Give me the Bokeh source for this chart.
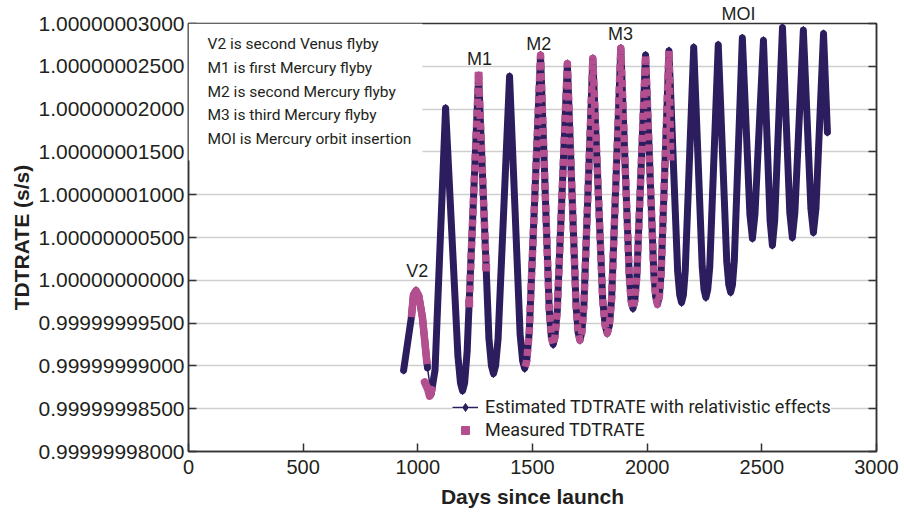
from bokeh.embed import file_html
from bokeh.models import (BoxAnnotation, FixedTicker, Label, Legend,
                          LegendItem, LinearAxis, Range1d,
                          SingleIntervalTicker)
from bokeh.plotting import figure
from bokeh.resources import INLINE

# TDTRATE is plotted as offset from 1 in units of 1e-9 s/s
est_days = [938, 972, 981, 992, 1004, 1020, 1042, 1058, 1075, 1121, 1175, 1186,
            1195, 1204, 1215, 1265, 1310, 1321, 1330, 1339, 1350, 1400, 1446,
            1457, 1466, 1475, 1486, 1535, 1573, 1582, 1590, 1598, 1608, 1652,
            1690, 1699, 1707, 1715, 1724, 1763, 1806, 1817, 1826, 1835, 1845,
            1885, 1922, 1930, 1938, 1946, 1955, 1993, 2029, 2037, 2045, 2053,
            2061, 2095, 2133, 2142, 2150, 2158, 2166, 2203, 2240, 2248, 2256,
            2264, 2273, 2310, 2347, 2356, 2364, 2372, 2380, 2415, 2448, 2459,
            2470, 2507, 2536, 2546, 2556, 2590, 2622, 2633, 2644, 2681, 2714,
            2725, 2736, 2769, 2786]
est_vals = [-10.5, -4.3, -1.7, -1.2, -1.8, -4.3, -10.2, -13.3, -10.5, 20.1, -8.9,
            -12.0, -12.9, -12.0, -8.3, 23.9, -6.8, -10.0, -10.9, -10.0, -6.8,
            23.8, -6.3, -9.4, -10.3, -9.4, -6.0, 26.3, -3.5, -6.6, -7.5, -6.6,
            -3.5, 25.3, -3.0, -6.1, -7.0, -6.1, -3.0, 25.9, -2.3, -5.3, -6.2,
            -5.3, -2.2, 27.1, 0.5, -2.4, -3.3, -2.4, 0.5, 26.3, 0.8, -1.9, -2.8,
            -1.9, 0.9, 26.8, 1.0, -1.7, -2.6, -1.7, 1.1, 27.2, 1.6, -1.1, -2.0,
            -1.1, 1.6, 27.5, 2.2, -0.5, -1.4, -0.5, 2.3, 28.3, 7.7, 4.9, 7.7,
            28.0, 7.0, 4.1, 7.0, 29.5, 7.9, 5.0, 7.9, 29.2, 8.4, 5.6, 8.4, 28.8,
            17.3]
est_gap_after = 1042  # estimated track has a data gap after this day

v2_meas_days = [972, 981, 992, 1004, 1020, 1040]
v2_meas_vals = [-4.3, -1.7, -1.2, -1.8, -4.3, -9.8]
v2_low_days = [1030, 1045, 1052, 1060]
v2_low_vals = [-11.9, -12.8, -13.5, -12.8]
m1_meas_days = [1224, 1265, 1298]
m1_meas_vals = [-2.7, 23.9, 1.5]
flyby_meas_days = [1468, 1475, 1486, 1535, 1573, 1582, 1590, 1598, 1608, 1652,
                   1690, 1699, 1707, 1715, 1724, 1763, 1806, 1817, 1826, 1835,
                   1845, 1885, 1922, 1930, 1938, 1946, 1955, 1993, 2029, 2037,
                   2045, 2053, 2061, 2095, 2103]
flyby_meas_vals = [-10.1, -9.4, -6.0, 26.3, -3.5, -6.6, -7.5, -6.6, -3.5, 25.3,
                   -3.0, -6.1, -7.0, -6.1, -3.0, 25.9, -2.3, -5.3, -6.2, -5.3,
                   -2.2, 27.1, 0.5, -2.4, -3.3, -2.4, 0.5, 26.3, 0.8, -1.9,
                   -2.8, -1.9, 0.9, 26.8, 14.0]

event_names = ["V2", "M1", "M2", "M3"]
event_label_days = [998, 1269, 1527, 1884]
event_label_vals = [1.1, 25.9, 27.6, 28.8]

notes = ["V2 is second Venus flyby",
         "M1 is first Mercury flyby",
         "M2 is second Mercury flyby",
         "M3 is third Mercury flyby",
         "MOI is Mercury orbit insertion"]

y_tick_vals = [-20, -15, -10, -5, 0, 5, 10, 15, 20, 25, 30]
y_tick_labels = ["0.99999998000", "0.99999998500", "0.99999999000",
                 "0.99999999500", "1.00000000000", "1.00000000500",
                 "1.00000001000", "1.00000001500", "1.00000002000",
                 "1.00000002500", "1.00000003000"]

NAVY = "#2b1d5e"
PINK = "#b44f8f"
INK = "#231f20"
FONT = "Liberation Sans"
NARROW = "Roboto"  # closest installed face to the condensed captions

p = figure(width=900, height=510, x_range=Range1d(0, 3000),
           y_range=Range1d(-20, 30), output_backend="svg",
           toolbar_location=None, min_border_left=188, min_border_right=24,
           min_border_top=23, min_border_bottom=59)
p.outline_line_color = "#333333"
p.outline_line_width = 1.5
p.xgrid.grid_line_color = None
p.ygrid.ticker = FixedTicker(ticks=y_tick_vals)
p.ygrid.grid_line_color = "#cfcfcf"
p.ygrid.grid_line_width = 1.5

# "MOI" sits above the frame, so it goes in the title slot
p.title.text = "MOI"
p.title.align = "left"
p.title.offset = 533
p.title.standoff = 0
p.title.text_font = FONT
p.title.text_font_size = "18px"
p.title.text_font_style = "normal"
p.title.text_color = INK

# axes
p.xaxis.ticker = SingleIntervalTicker(interval=500)
p.yaxis.ticker = FixedTicker(ticks=y_tick_vals)
p.yaxis.major_label_overrides = dict(zip(y_tick_vals, y_tick_labels))
for ax in (p.xaxis[0], p.yaxis[0]):
    ax.axis_line_color = "#333333"
    ax.axis_line_width = 1.5
    ax.major_tick_in = 8
    ax.major_tick_out = 0
    ax.major_tick_line_color = "#333333"
    ax.major_tick_line_width = 1.5
    ax.minor_tick_line_color = None
    ax.major_label_text_font = FONT
    ax.major_label_text_color = INK
    ax.major_label_standoff = 4
    ax.axis_label_text_font = FONT
    ax.axis_label_text_font_size = "21px"
    ax.axis_label_text_font_style = "bold"
    ax.axis_label_text_color = INK
p.xaxis.major_label_text_font_size = "20px"
p.yaxis.major_label_text_font_size = "21px"
p.xaxis.axis_label = "Days since launch"
p.xaxis.axis_label_standoff = 8
p.yaxis.axis_label = "TDTRATE (s/s)"
p.yaxis.axis_label_standoff = 3

right = LinearAxis(ticker=FixedTicker(ticks=y_tick_vals),
                   major_label_overrides={v: "" for v in y_tick_vals},
                   major_tick_in=8, major_tick_out=0,
                   minor_tick_line_color=None, axis_line_color="#333333",
                   axis_line_width=1.5, major_tick_line_color="#333333",
                   major_tick_line_width=1.5, major_label_standoff=0)
p.add_layout(right, "right")

# white box behind the notes
p.add_layout(BoxAnnotation(left=0, right=1020, top=30, bottom=14.0,
                           fill_color="white", fill_alpha=1.0,
                           line_color=None))

# estimated track
split = est_days.index(est_gap_after) + 1
est_thin = p.line(est_days, est_vals, color=NAVY, line_width=1.5)
p.line(est_days[:split], est_vals[:split], color=NAVY, line_width=7,
       line_join="round", line_cap="round")
p.line(est_days[split:], est_vals[split:], color=NAVY, line_width=7,
       line_join="round", line_cap="round")
est_marks = p.scatter(est_days, est_vals, marker="diamond", size=8, color=NAVY)

# measured
p.line(v2_meas_days, v2_meas_vals, color=PINK, line_width=7.5,
       line_join="round")
p.line(v2_low_days, v2_low_vals, color=PINK, line_width=8,
       line_join="round", line_cap="round")
p.line(m1_meas_days, m1_meas_vals, color=PINK, line_width=7.5,
       line_dash="7 4", line_join="round")
p.line(flyby_meas_days, flyby_meas_vals, color=PINK, line_width=7.5,
       line_dash="7 4", line_join="round")
meas_marks = p.scatter(m1_meas_days, m1_meas_vals, marker="square", size=7,
                       color=PINK)

legend = Legend(items=[
    LegendItem(label="Estimated TDTRATE with relativistic effects",
               renderers=[est_thin, est_marks]),
    LegendItem(label="Measured TDTRATE", renderers=[meas_marks]),
], location=(264, 11))
legend.label_text_font = NARROW
legend.label_text_font_size = "18px"
legend.label_text_color = INK
legend.border_line_color = None
legend.background_fill_alpha = 1.0
legend.padding = 3
legend.margin = 0
legend.spacing = 2
legend.glyph_width = 26
legend.label_standoff = 7
p.add_layout(legend)

# notes and event labels
p.add_layout(Label(x=83, y=28.7, text="\n".join(notes), text_font=NARROW,
                   text_font_size="15.5px", text_color=INK,
                   text_baseline="top", text_line_height=1.33))
for name, d, v in zip(event_names, event_label_days, event_label_vals):
    p.add_layout(Label(x=d, y=v, text=name, text_font=FONT,
                       text_font_size="18px", text_color=INK,
                       text_align="center", text_baseline="middle"))

open("out.html", "w").write(file_html(p, INLINE))
